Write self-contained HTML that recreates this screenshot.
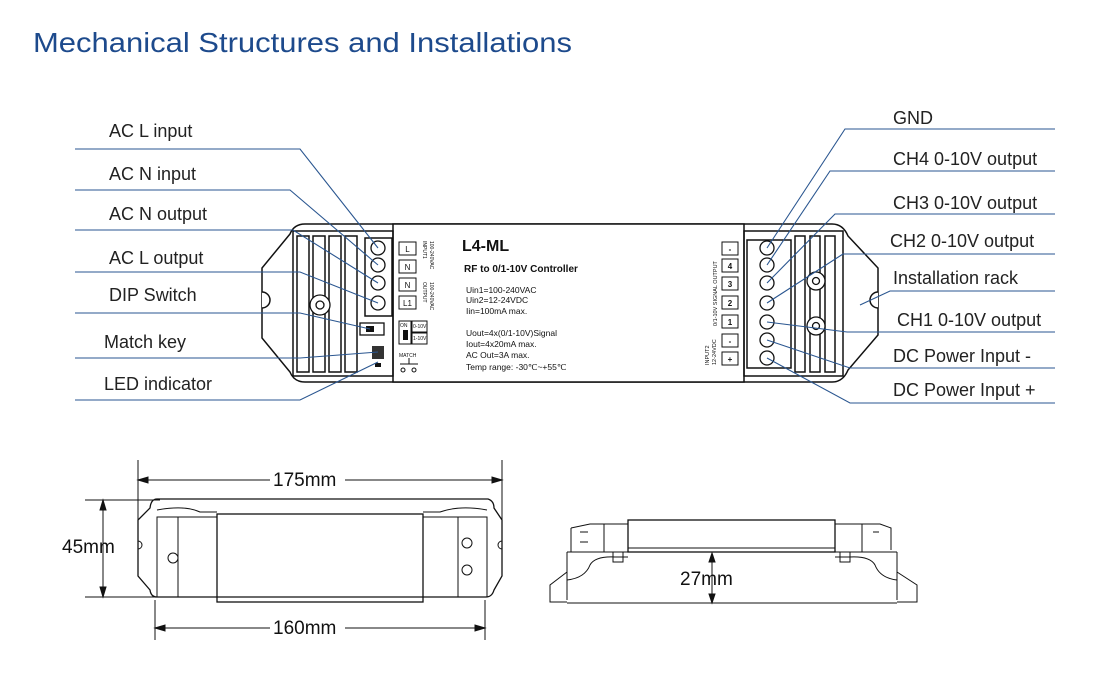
<!DOCTYPE html>
<html><head><meta charset="utf-8"><style>
html,body{margin:0;padding:0;background:#fff;width:1093px;height:676px;overflow:hidden}
svg{display:block}
text{font-family:"Liberation Sans",sans-serif}
</style></head><body>
<svg width="1093" height="676" viewBox="0 0 1093 676" xmlns="http://www.w3.org/2000/svg">
<text x="33" y="52" font-size="28" fill="#1d4a8c" textLength="539" lengthAdjust="spacingAndGlyphs">Mechanical Structures and Installations</text>

<!-- main device -->
<g fill="none" stroke="#111" stroke-width="1.5">
  <path d="M305,224 L832,224 Q843,224 848,236 L878,268 L878,335 L848,370 Q843,382 832,382 L305,382 Q294,382 290,372 L262,338 L262,268 L290,234 Q294,224 305,224 Z"/>
  <path d="M262,292 a8,8 0 0 1 0,16" fill="#fff"/>
  <path d="M878,292 a8,8 0 0 0 0,16" fill="#fff"/>
  <rect x="393" y="224" width="351" height="158" fill="#fff"/>
  <rect x="293" y="231" width="100" height="145"/>
  <rect x="744" y="231" width="99" height="145"/>
  <rect x="297" y="236" width="12" height="136"/><rect x="313" y="236" width="12" height="136"/>
  <rect x="329" y="236" width="12" height="136"/><rect x="345" y="236" width="12" height="136"/>
  <rect x="365" y="238" width="27" height="78"/>
  <rect x="795" y="236" width="10" height="136"/><rect x="810" y="236" width="10" height="136"/>
  <rect x="825" y="236" width="10" height="136"/>
  <rect x="747" y="240" width="44" height="128"/>
</g>
<g fill="#fff" stroke="#111" stroke-width="1.3">
  <circle cx="320" cy="305" r="10"/><circle cx="320" cy="305" r="4"/>
  <circle cx="816" cy="281" r="9"/><circle cx="816" cy="281" r="3.5"/>
  <circle cx="816" cy="326" r="9"/><circle cx="816" cy="326" r="3.5"/>
  <circle cx="378" cy="248" r="7"/><circle cx="378" cy="265" r="7"/>
  <circle cx="378" cy="283" r="7"/><circle cx="378" cy="303" r="7"/>
  <circle cx="767" cy="248" r="7"/><circle cx="767" cy="265" r="7"/><circle cx="767" cy="283" r="7"/>
  <circle cx="767" cy="303" r="7"/><circle cx="767" cy="322" r="7"/><circle cx="767" cy="340" r="7"/><circle cx="767" cy="358" r="7"/>
  <rect x="360" y="323" width="24" height="12"/>
</g>
<rect x="366" y="326" width="8" height="6" fill="#111"/>
<rect x="372" y="346" width="12" height="13" fill="#333"/>
<rect x="375" y="363" width="6" height="4" fill="#111"/>

<g font-size="8" text-anchor="middle" fill="#111">
  <rect x="399" y="242" width="17" height="13" fill="none" stroke="#111"/><text x="407.5" y="252">L</text>
  <rect x="399" y="260" width="17" height="13" fill="none" stroke="#111"/><text x="407.5" y="270">N</text>
  <rect x="399" y="278" width="17" height="13" fill="none" stroke="#111"/><text x="407.5" y="288">N</text>
  <rect x="399" y="296" width="17" height="13" fill="none" stroke="#111"/><text x="407.5" y="306">L1</text>
</g>
<g font-size="5" fill="#111">
  <text transform="translate(423,241) rotate(90)">INPUT1</text>
  <text transform="translate(430,241) rotate(90)">100-240VAC</text>
  <text transform="translate(423,282) rotate(90)">OUTPUT</text>
  <text transform="translate(430,282) rotate(90)">100-240VAC</text>
  <rect x="399" y="321" width="12" height="23" fill="none" stroke="#111"/>
  <rect x="403" y="330" width="5" height="10" fill="#111"/>
  <text x="400" y="327">ON</text>
  <rect x="412" y="321" width="15" height="11" fill="none" stroke="#111"/><text x="413" y="328">0-10V</text>
  <rect x="412" y="333" width="15" height="11" fill="none" stroke="#111"/><text x="413" y="340">1-10V</text>
  <text x="399" y="357">MATCH</text>
</g>
<path d="M400,364 h18 M409,364 v-6" stroke="#111" fill="none"/>
<circle cx="403" cy="370" r="2" fill="none" stroke="#111"/><circle cx="414" cy="370" r="2" fill="none" stroke="#111"/>

<g fill="#111" font-weight="bold">
  <text x="462" y="251" font-size="16">L4-ML</text>
  <text x="464" y="272" font-size="10">RF to 0/1-10V Controller</text>
</g>
<g fill="#111" font-size="8.5">
  <text x="466" y="293">Uin1=100-240VAC</text>
  <text x="466" y="303">Uin2=12-24VDC</text>
  <text x="466" y="314">Iin=100mA max.</text>
  <text x="466" y="336">Uout=4x(0/1-10V)Signal</text>
  <text x="466" y="347">Iout=4x20mA max.</text>
  <text x="466" y="358">AC Out=3A max.</text>
  <text x="466" y="370">Temp range: -30℃~+55℃</text>
</g>
<g font-size="8" font-weight="bold" text-anchor="middle" fill="#111">
  <rect x="722" y="242" width="16" height="13" fill="none" stroke="#111"/><text x="730" y="252">-</text>
  <rect x="722" y="259" width="16" height="13" fill="none" stroke="#111"/><text x="730" y="269">4</text>
  <rect x="722" y="277" width="16" height="13" fill="none" stroke="#111"/><text x="730" y="287">3</text>
  <rect x="722" y="296" width="16" height="13" fill="none" stroke="#111"/><text x="730" y="306">2</text>
  <rect x="722" y="315" width="16" height="13" fill="none" stroke="#111"/><text x="730" y="325">1</text>
  <rect x="722" y="334" width="16" height="13" fill="none" stroke="#111"/><text x="730" y="344">-</text>
  <rect x="722" y="352" width="16" height="13" fill="none" stroke="#111"/><text x="730" y="362">+</text>
</g>
<g font-size="5.5" fill="#111">
  <text transform="translate(717,326) rotate(-90)">0/1-10V SIGNAL OUTPUT</text>
  <text transform="translate(709,365) rotate(-90)">INPUT2</text>
  <text transform="translate(716,365) rotate(-90)">12-24VDC</text>
</g>

<g fill="none" stroke="#2a5690" stroke-width="1.1">
  <path d="M75,149 H300 L378,248"/>
  <path d="M75,190 H290 L378,265"/>
  <path d="M75,230 H293 L378,283"/>
  <path d="M75,272 H300 L378,303"/>
  <path d="M75,313 H300 L370,329"/>
  <path d="M75,358 H300 L378,352"/>
  <path d="M75,400 H300 L378,362"/>
  <path d="M1055,129 H845 L767,248"/>
  <path d="M1055,171 H830 L767,265"/>
  <path d="M1055,214 H835 L767,283"/>
  <path d="M1055,254 H843 L767,303"/>
  <path d="M1055,291 H890 L860,305"/>
  <path d="M1055,332 H847 L767,322"/>
  <path d="M1055,368 H850 L767,340"/>
  <path d="M1055,403 H850 L767,358"/>
</g>
<g font-size="18" fill="#222">
  <text x="109" y="137">AC L input</text>
  <text x="109" y="180">AC N input</text>
  <text x="109" y="220">AC N output</text>
  <text x="109" y="264">AC L output</text>
  <text x="109" y="301">DIP Switch</text>
  <text x="104" y="348">Match key</text>
  <text x="104" y="390">LED indicator</text>
  <text x="893" y="124">GND</text>
  <text x="893" y="165">CH4 0-10V output</text>
  <text x="893" y="209">CH3 0-10V output</text>
  <text x="890" y="247">CH2 0-10V output</text>
  <text x="893" y="284">Installation rack</text>
  <text x="897" y="326">CH1 0-10V output</text>
  <text x="893" y="362">DC Power Input -</text>
  <text x="893" y="396">DC Power Input +</text>
</g>

<g fill="none" stroke="#111" stroke-width="1">
  <path d="M138,460 V545 M502,460 V545 M138,480 H270 M345,480 H502"/>
  <path d="M138,480 l10,-3 v6 z M502,480 l-10,-3 v6 z" fill="#111"/>
  <path d="M85,500 H160 M85,597 H155 M103,500 V597"/>
  <path d="M103,500 l-3,10 h6 z M103,597 l-3,-10 h6 z" fill="#111"/>
  <path d="M155,600 V640 M485,600 V640 M155,628 H270 M345,628 H485"/>
  <path d="M155,628 l10,-3 v6 z M485,628 l-10,-3 v6 z" fill="#111"/>
  <path d="M157,499 H488 Q494,501 494,508 L502,520 V576 L494,590 Q492,597 486,597 H157 Q151,597 150,590 L138,576 V520 L150,508 Q151,499 157,499 Z" stroke-width="1.3"/>
  <path d="M138,541 a4,4 0 0 1 0,8 M502,541 a4,4 0 0 0 0,8"/>
  <rect x="157" y="517" width="60" height="80"/>
  <rect x="423" y="517" width="64" height="80"/>
  <rect x="217" y="514" width="206" height="88" stroke-width="1.3"/>
  <path d="M178,517 V597 M458,517 V597 M157,510 Q185,505 200,512 H217 M423,512 H440 Q460,505 487,510"/>
  <circle cx="173" cy="558" r="5"/><circle cx="467" cy="543" r="5"/><circle cx="467" cy="570" r="5"/>
</g>
<g font-size="19" fill="#111">
  <text x="273" y="486">175mm</text>
  <text x="62" y="553">45mm</text>
  <text x="273" y="634">160mm</text>
  <text x="680" y="585">27mm</text>
</g>

<g fill="none" stroke="#111" stroke-width="1">
  <rect x="628" y="520" width="207" height="32" stroke-width="1.3"/>
  <path d="M628,548 H835"/>
  <path d="M571,528 L590,524 H628 M835,524 H880 L891,528 V550"/>
  <path d="M571,528 V552 M604,524 V552 M862,524 V552"/>
  <path d="M567,552 H628 M835,552 H897 M567,552 V600 M897,552 V600 M567,603 H897"/>
  <path d="M567,580 Q585,578 590,565 Q595,556 615,557 H628 M835,557 H850 Q870,556 875,565 Q880,578 897,580"/>
  <path d="M567,572 L550,585 V602 H567 M897,572 L917,585 V602 H897"/>
  <rect x="613" y="552" width="10" height="10"/><rect x="840" y="552" width="10" height="10"/>
  <path d="M580,532 h8 M580,542 h8 M873,532 h6"/>
  <path d="M712,553 V603"/>
  <path d="M712,553 l-3,9 h6 z M712,603 l-3,-9 h6 z" fill="#111"/>
</g>
</svg>
</body></html>
